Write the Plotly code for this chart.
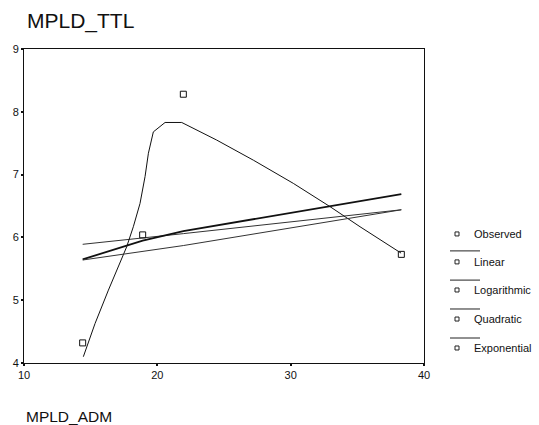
import plotly.graph_objects as go

# Observed cases (MPLD_ADM vs MPLD_TTL)
obs_x = [14.4, 18.9, 21.95, 38.3]
obs_y = [4.32, 6.04, 8.28, 5.73]

# Fitted values at the sorted observed MPLD_ADM values
fit_x = [14.4, 18.9, 21.95, 38.3]
linear_y = [5.89, 5.99, 6.06, 6.44]
log_y = [5.65, 5.95, 6.10, 6.69]
expo_y = [5.64, 5.78, 5.87, 6.44]

# Quadratic curve as drawn
quad_x = [14.45, 15.33, 16.33, 17.07, 17.70, 18.20, 18.70, 19.08, 19.33, 19.70,
          20.58, 21.83, 24.45, 27.20, 30.20, 32.95, 35.20, 38.28]
quad_y = [4.10, 4.63, 5.16, 5.53, 5.85, 6.17, 6.54, 6.97, 7.34, 7.68,
          7.83, 7.83, 7.55, 7.23, 6.86, 6.49, 6.17, 5.75]

x_ticks = [10, 20, 30, 40]
y_ticks = [4, 5, 6, 7, 8, 9]
legend_names = ["Observed", "Linear", "Logarithmic", "Quadratic", "Exponential"]

FONT = "Arial, Liberation Sans, sans-serif"

fig = go.Figure()
fig.add_trace(go.Scatter(x=fit_x, y=linear_y, mode="lines",
                         line=dict(color="#333333", width=1), name="Linear"))
fig.add_trace(go.Scatter(x=fit_x, y=log_y, mode="lines",
                         line=dict(color="#111111", width=1.8), name="Logarithmic"))
fig.add_trace(go.Scatter(x=quad_x, y=quad_y, mode="lines",
                         line=dict(color="#111111", width=1), name="Quadratic"))
fig.add_trace(go.Scatter(x=fit_x, y=expo_y, mode="lines",
                         line=dict(color="#333333", width=1), name="Exponential"))
fig.add_trace(go.Scatter(x=obs_x, y=obs_y, mode="markers",
                         marker=dict(symbol="square-open", size=6, color="#111111",
                                     line=dict(width=1)),
                         name="Observed"))

# Hand-built legend: marker + label, with a short rule between entries
leg_y = [0.411, 0.322, 0.2325, 0.140, 0.0478]
rule_y = [0.357, 0.264, 0.172, 0.0796]
annotations = []
shapes = []
for name, yv in zip(legend_names, leg_y):
    annotations.append(dict(text=name, xref="paper", yref="paper", x=1.119, y=yv,
                            xanchor="left", yanchor="middle", showarrow=False,
                            font=dict(family=FONT, size=11, color="#111111")))
    shapes.append(dict(type="rect", xref="paper", yref="paper",
                       xsizemode="pixel", ysizemode="pixel",
                       xanchor=1.0825, yanchor=yv, x0=-2, x1=2, y0=-2, y1=2,
                       line=dict(color="#222222", width=1)))
for yv in rule_y:
    shapes.append(dict(type="line", xref="paper", yref="paper",
                       x0=1.065, x1=1.14, y0=yv, y1=yv,
                       line=dict(color="#222222", width=1)))

annotations.append(dict(text="MPLD_ADM", xref="paper", yref="paper", x=0, y=-0.169,
                        xanchor="left", yanchor="middle", showarrow=False,
                        font=dict(family=FONT, size=15.5, color="#111111")))

fig.update_layout(
    width=539, height=425,
    margin=dict(l=24, r=115, t=49, b=62),
    paper_bgcolor="white", plot_bgcolor="white",
    showlegend=False,
    title=dict(text="MPLD_TTL", x=27 / 539, xanchor="left", xref="container",
               y=1 - 20.5 / 425, yanchor="middle",
               font=dict(family=FONT, size=21, color="#111111")),
    font=dict(family=FONT, size=11, color="#111111"),
    annotations=annotations,
    shapes=shapes,
)
fig.update_xaxes(range=[10, 40], tickvals=x_ticks, showgrid=False, zeroline=False,
                 showline=True, linecolor="#111111", linewidth=1, mirror=True,
                 ticks="outside", ticklen=2, tickwidth=2, tickcolor="#111111",
                 tickfont=dict(family=FONT, size=11))
fig.update_yaxes(range=[4, 9], tickvals=y_ticks, showgrid=False, zeroline=False,
                 showline=True, linecolor="#111111", linewidth=1, mirror=True,
                 ticks="outside", ticklen=2, tickwidth=2, tickcolor="#111111",
                 tickfont=dict(family=FONT, size=11))

fig.write_html("out.html")
